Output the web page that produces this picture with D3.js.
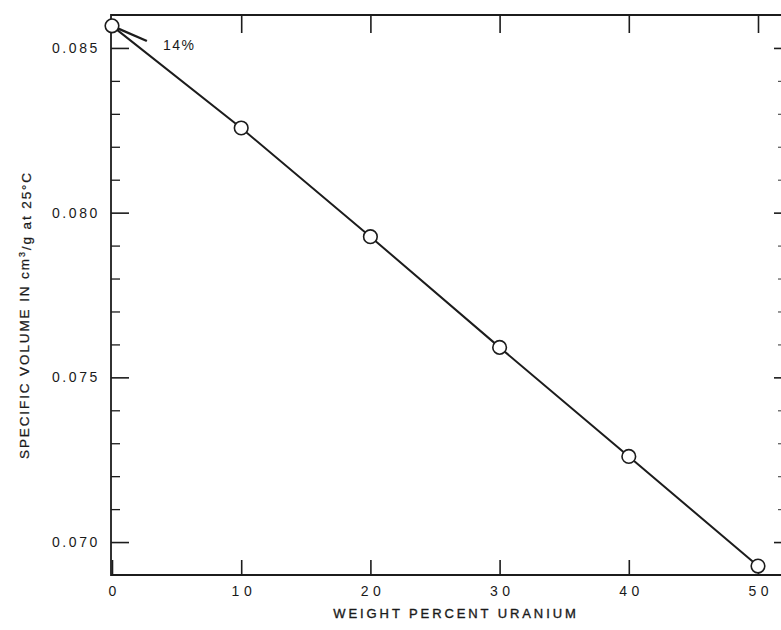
<!DOCTYPE html>
<html>
<head>
<meta charset="utf-8">
<script src="https://cdn.jsdelivr.net/npm/d3@7"></script>
<style>
  html, body { margin: 0; padding: 0; background: #fff; }
  svg { display: block; }
  text { font-family: "Liberation Sans", Arial, sans-serif; fill: #1a1a1a; }
</style>
</head>
<body>
<svg id="chart" width="781" height="630"></svg>
<script>
// ---- data ----
const uraniumPct = [0, 10, 20, 30, 40, 50];
const specificVolume = [0.08567, 0.08257, 0.07927, 0.07591, 0.0726, 0.06927];
const xTickValues = [0, 10, 20, 30, 40, 50];
const yMajorTicks = [0.070, 0.075, 0.080, 0.085];
const yMinorTicks = [0.071, 0.072, 0.073, 0.074, 0.076, 0.077, 0.078, 0.079, 0.081, 0.082, 0.083, 0.084];
const xTitle = "WEIGHT PERCENT URANIUM";
const annotationText = "14%";
const annotationTip = [2.7, 0.08521];

// ---- layout ----
const frame = { left: 111, right: 781, top: 15, bottom: 575 };
const svg = d3.select("#chart");
const ink = "#1c1c1c";

const x = d3.scaleLinear().domain([0, 50]).range([112, 758]);
const y = d3.scaleLinear().domain([0.069, 0.086]).range([frame.bottom, frame.top]);

// frame lines (top, left, bottom)
svg.append("path")
  .attr("d", `M${frame.right},${frame.top}H${frame.left}V${frame.bottom}H${frame.right}`)
  .attr("stroke", ink).attr("stroke-width", 1.8).attr("fill", "none");

// bottom axis: ticks inward + labels
const xAxisB = d3.axisBottom(x).tickValues(xTickValues).tickSizeInner(-15).tickSizeOuter(0).tickPadding(11)
  .tickFormat(d3.format("d"));
const gB = svg.append("g").attr("transform", `translate(0,${frame.bottom})`).call(xAxisB);
gB.select(".domain").remove();
gB.selectAll(".tick line").attr("stroke", ink).attr("stroke-width", 1.6);
gB.selectAll(".tick text").attr("font-size", 14).attr("fill", ink)
  .attr("letter-spacing", "4.5px").attr("dx", "2.2px");

// top axis: ticks inward, no labels
const xAxisT = d3.axisTop(x).tickValues(xTickValues.filter(d => d > 0)).tickSizeInner(-18).tickSizeOuter(0).tickFormat("");
const gT = svg.append("g").attr("transform", `translate(0,${frame.top})`).call(xAxisT);
gT.select(".domain").remove();
gT.selectAll(".tick line").attr("stroke", ink).attr("stroke-width", 1.6);

// left axis: major ticks with labels
const yAxisL = d3.axisLeft(y).tickValues(yMajorTicks).tickSizeInner(-18).tickSizeOuter(0).tickPadding(11)
  .tickFormat(d3.format(".3f"));
const gL = svg.append("g").attr("transform", `translate(${frame.left},0)`).call(yAxisL);
gL.select(".domain").remove();
gL.selectAll(".tick line").attr("stroke", ink).attr("stroke-width", 1.6);
gL.selectAll(".tick text").attr("font-size", 14).attr("fill", ink).attr("letter-spacing", "2.6px");

// left axis minor ticks
const yAxisLm = d3.axisLeft(y).tickValues(yMinorTicks).tickSizeInner(-9).tickSizeOuter(0).tickFormat("");
const gLm = svg.append("g").attr("transform", `translate(${frame.left},0)`).call(yAxisLm);
gLm.select(".domain").remove();
gLm.selectAll(".tick line").attr("stroke", ink).attr("stroke-width", 1.3);

// right axis: major and minor ticks inward
const yAxisR = d3.axisRight(y).tickValues(yMajorTicks).tickSizeInner(-7).tickSizeOuter(0).tickFormat("");
const gR = svg.append("g").attr("transform", `translate(${frame.right},0)`).call(yAxisR);
gR.select(".domain").remove();
gR.selectAll(".tick line").attr("stroke", ink).attr("stroke-width", 1.6);
const yAxisRm = d3.axisRight(y).tickValues(yMinorTicks).tickSizeInner(-3).tickSizeOuter(0).tickFormat("");
const gRm = svg.append("g").attr("transform", `translate(${frame.right},0)`).call(yAxisRm);
gRm.select(".domain").remove();
gRm.selectAll(".tick line").attr("stroke", "#555").attr("stroke-width", 1.2);

// data line
const pts = uraniumPct.map((u, i) => [u, specificVolume[i]]);
svg.append("path").datum(pts)
  .attr("fill", "none").attr("stroke", ink).attr("stroke-width", 2)
  .attr("d", d3.line().x(d => x(d[0])).y(d => y(d[1])));

// annotation tangent line
svg.append("line")
  .attr("x1", x(uraniumPct[0])).attr("y1", y(specificVolume[0]))
  .attr("x2", x(annotationTip[0])).attr("y2", y(annotationTip[1]))
  .attr("stroke", ink).attr("stroke-width", 2.4);

// circles
svg.append("g").selectAll("circle").data(pts).join("circle")
  .attr("cx", d => x(d[0])).attr("cy", d => y(d[1])).attr("r", 6.8)
  .attr("fill", "#fff").attr("stroke", ink).attr("stroke-width", 1.6);

// annotation text
svg.append("text").attr("x", x(annotationTip[0]) + 16).attr("y", y(annotationTip[1]) + 9)
  .attr("font-size", 14).attr("letter-spacing", "1.5px").text(annotationText);

// x title
svg.append("text").attr("x", (frame.left + frame.right) / 2 + 10).attr("y", 618)
  .attr("text-anchor", "middle").attr("font-size", 13).attr("letter-spacing", "2.9px")
  .attr("stroke", "#1a1a1a").attr("stroke-width", 0.35)
  .text(xTitle);

// y title with superscript
const yt = svg.append("text")
  .attr("transform", `translate(29,${315}) rotate(-90)`)
  .attr("text-anchor", "middle").attr("font-size", 13.5).attr("letter-spacing", "1.9px")
  .attr("stroke", "#1a1a1a").attr("stroke-width", 0.25);
yt.append("tspan").text("SPECIFIC VOLUME IN cm");
yt.append("tspan").attr("dy", "-0.45em").attr("font-size", 9).text("3");
yt.append("tspan").attr("dy", "0.45em").text("/g at 25°C");
</script>
</body>
</html>
